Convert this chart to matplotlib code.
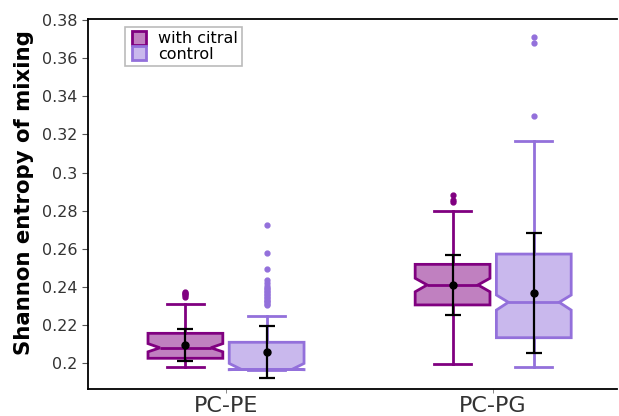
import matplotlib
matplotlib.use('Agg')
import matplotlib.pyplot as plt
from matplotlib.lines import Line2D

groups = ['PC-PE', 'PC-PG']
labels = ['with citral', 'control']

# estadisticos: [PC-PE, PC-PG]
citral_med = [0.2080, 0.2410]
citral_q1 = [0.2025, 0.2305]
citral_q3 = [0.2156, 0.2518]
citral_cilo = [0.2059, 0.2374]
citral_cihi = [0.2102, 0.2445]
citral_whislo = [0.1981, 0.1995]
citral_whishi = [0.2308, 0.2798]
citral_fliers = [[0.2348, 0.2356, 0.2362, 0.2368, 0.2373],
                 [0.2847, 0.2855, 0.2882]]
citral_mean = [0.2094, 0.2411]
citral_std = [0.0083, 0.0158]

control_med = [0.1967, 0.2319]
control_q1 = [0.1966, 0.2133]
control_q3 = [0.2109, 0.2572]
control_cilo = [0.1965, 0.2278]
control_cihi = [0.1998, 0.2357]
control_whislo = [0.1963, 0.1981]
control_whishi = [0.2248, 0.3165]
control_fliers = [[0.2305, 0.231, 0.2318, 0.2325, 0.2332, 0.234, 0.2348, 0.2356,
                   0.2364, 0.2372, 0.238, 0.2388, 0.2396, 0.2405, 0.2418,
                   0.2436, 0.2493, 0.2579, 0.2725],
                  [0.3298, 0.3682, 0.3710]]
control_mean = [0.2056, 0.2366]
control_std = [0.0137, 0.0315]

edge_colors = ['#800080', '#9370DB']
fill_colors = ['#C080C0', '#C9B8ED']


def make_stats(med, q1, q3, cilo, cihi, lo, hi, fl):
    return [dict(med=med[i], q1=q1[i], q3=q3[i], cilo=cilo[i], cihi=cihi[i],
                 whislo=lo[i], whishi=hi[i], fliers=fl[i]) for i in range(len(med))]


conds = [
    (make_stats(citral_med, citral_q1, citral_q3, citral_cilo, citral_cihi,
                citral_whislo, citral_whishi, citral_fliers), citral_mean, citral_std),
    (make_stats(control_med, control_q1, control_q3, control_cilo, control_cihi,
                control_whislo, control_whishi, control_fliers), control_mean, control_std),
]

fig = plt.figure(figsize=(6.19, 4.16), dpi=100)
ax = fig.add_axes([0.142, 0.065, 0.855, 0.889])

width = 0.28
offsets = [-0.152, 0.152]
for k, (stats, mean, std) in enumerate(conds):
    ec, fc = edge_colors[k], fill_colors[k]
    pos = [i + offsets[k] for i in range(len(groups))]
    bp = ax.bxp(stats, positions=pos, widths=width, shownotches=True, patch_artist=True,
                boxprops=dict(facecolor=fc, edgecolor=ec, linewidth=2),
                whiskerprops=dict(color=ec, linewidth=2),
                capprops=dict(color=ec, linewidth=2),
                medianprops=dict(color=ec, linewidth=2),
                flierprops=dict(marker='o', markerfacecolor=ec, markeredgecolor=ec,
                                markersize=3.5),
                manage_ticks=False)
    # muesca menos profunda que la de matplotlib
    for p, box, medline in zip(pos, bp['boxes'], bp['medians']):
        verts = box.get_path().vertices
        inner = abs(verts[:, 0] - p) < width * 0.3
        verts[inner, 0] = p + (verts[inner, 0] - p) * 1.36
        medline.set_xdata([p - width * 0.34, p + width * 0.34])
    ax.errorbar(pos, mean, yerr=std, fmt='o', color='k', ms=5, capsize=6,
                elinewidth=1.6, capthick=1.6, zorder=5)

ax.set_xlim(-0.517, 1.464)
ax.set_ylim(0.1864, 0.3805)
ax.set_xticks(range(len(groups)))
ax.set_xticklabels(groups, fontsize=16, color='#333333')
yt = [0.2, 0.22, 0.24, 0.26, 0.28, 0.3, 0.32, 0.34, 0.36, 0.38]
ax.set_yticks(yt)
ax.set_yticklabels([f'{v:g}' for v in yt], fontsize=11.5, color='#333333')
ax.tick_params(axis='y', length=4, width=0.8, color='#555555')
ax.tick_params(axis='x', length=3, width=0.6, color='#777777', pad=2)
ax.set_ylabel('Shannon entropy of mixing', fontsize=15.3, fontweight='bold')
ax.yaxis.set_label_coords(-0.102, 0.532)

ax.spines['right'].set_visible(False)
for s in ['left', 'bottom', 'top']:
    ax.spines[s].set_linewidth(1.3)

handles = [Line2D([], [], marker='s', linestyle='none', markersize=10,
                  markerfacecolor=fill_colors[k], markeredgecolor=edge_colors[k],
                  markeredgewidth=2) for k in range(2)]
leg = ax.legend(handles, labels, loc='upper left', bbox_to_anchor=(0.07, 0.978),
                borderaxespad=0, fontsize=11.5, fancybox=False, handletextpad=0.65,
                labelspacing=0.05, borderpad=0.25, handlelength=1.2)
leg.get_frame().set_edgecolor('#aaaaaa')
leg.get_frame().set_linewidth(1.2)

fig.savefig('out.png', dpi=100)
